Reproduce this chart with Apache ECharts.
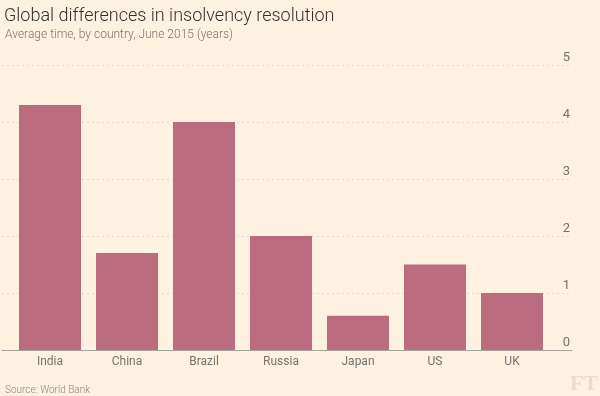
<!DOCTYPE html>
<html>
<head>
<meta charset="utf-8">
<script src="https://cdn.jsdelivr.net/npm/echarts@6/dist/echarts.min.js"></script>
<style>
  html, body { margin: 0; padding: 0; background: #fff1e0; }
  #chart { width: 600px; height: 396px; }
</style>
</head>
<body>
<div id="chart"></div>
<script>
const countries = ['India', 'China', 'Brazil', 'Russia', 'Japan', 'US', 'UK']
const years = [4.3, 1.7, 4.0, 2.0, 0.6, 1.5, 1.0]
const yTicks = [0, 1, 2, 3, 4, 5]

const grey = '#74736c'
const font = 'Roboto'

let myChart = echarts.init(document.getElementById('chart'))
let options = {
  backgroundColor: '#fff1e0',
  animation: false,
  title: [
    {
      text: 'Global differences in insolvency resolution',
      left: -1, top: 2,
      textStyle: { fontFamily: font, fontWeight: 300, fontSize: 18, color: '#33302e' }
    },
    {
      text: 'Average time, by country, June 2015 (years)',
      left: 0, top: 24,
      textStyle: { fontFamily: font, fontWeight: 300, fontSize: 12, color: '#7a7670' }
    },
    {
      text: 'Source: World Bank',
      left: 0, top: 380,
      textStyle: { fontFamily: font, fontWeight: 300, fontSize: 10, color: '#8a857f' }
    }
  ],
  graphic: [{
    type: 'text',
    right: 2, bottom: 1,
    style: { text: 'FT', font: 'bold 22px "Liberation Serif"', fill: '#eadccb' }
  }],
  grid: [
    { left: 2, right: 28, top: 65, bottom: 46 },
    { left: 11.5, right: 49.5, top: 65, bottom: 46 }
  ],
  xAxis: [
    {
      gridIndex: 0, type: 'value', min: 0, max: 1,
      axisLine: { show: true, lineStyle: { color: '#a8a49c', width: 1 } },
      axisTick: { show: false }, axisLabel: { show: false }, splitLine: { show: false }
    },
    {
      gridIndex: 1, type: 'category', data: countries,
      axisLine: { show: false }, axisTick: { show: false },
      axisLabel: { margin: 6, fontFamily: font, fontSize: 12, color: grey }
    }
  ],
  yAxis: [
    {
      gridIndex: 0, type: 'value', position: 'right',
      min: yTicks[0], max: yTicks[yTicks.length - 1], interval: 1,
      axisLine: { show: false }, axisTick: { show: false },
      axisLabel: {
        inside: true, margin: 2, verticalAlign: 'bottom', padding: [0, 0, 1, 0],
        fontFamily: font, fontSize: 13, color: grey
      },
      splitLine: { show: true, lineStyle: { color: '#e3d8ca', type: [2, 3], width: 1 } }
    },
    {
      gridIndex: 1, type: 'value', min: 0, max: 5, show: false
    }
  ],
  series: [{
    type: 'bar',
    xAxisIndex: 1, yAxisIndex: 1,
    barWidth: 62,
    itemStyle: { color: '#bb6d7f' },
    data: years
  }]
}
myChart.setOption(options)
</script>
</body>
</html>
